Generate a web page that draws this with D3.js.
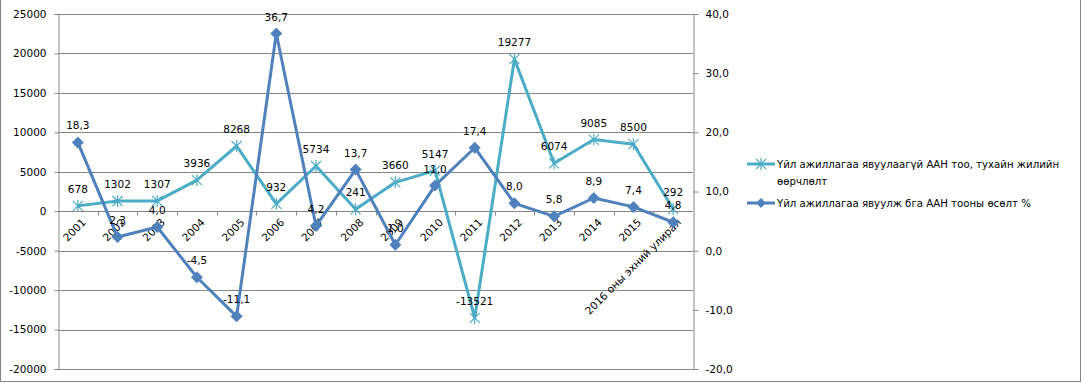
<!DOCTYPE html>
<html>
<head>
<meta charset="utf-8">
<script src="https://cdn.jsdelivr.net/npm/d3@7"></script>
<style>
  body { margin: 0; background: #fff; }
  svg text { font-family: "DejaVu Sans", Verdana, sans-serif; font-size: 10.5px; fill: #000; }
  svg .legend text { font-size: 10.2px; }
</style>
</head>
<body>
<svg id="main-svg" width="1082" height="386"></svg>
<script>
const years = ["2001", "2002", "2003", "2004", "2005", "2006", "2007", "2008",
  "2009", "2010", "2011", "2012", "2013", "2014", "2015", "2016 оны эхний улирал"];
const idleChange = [678, 1302, 1307, 3936, 8268, 932, 5734, 241, 3660, 5147, -13521, 19277, 6074, 9085, 8500, 292];
const activeGrowth = [18.3, 2.3, 4.0, -4.5, -11.1, 36.7, 4.2, 13.7, 1.0, 11.0, 17.4, 8.0, 5.8, 8.9, 7.4, 4.8];
const leftTicks = d3.range(-20000, 25001, 5000);
const rightTicks = d3.range(-20, 41, 10);
const legendNames = [
  ["Үйл ажиллагаа явуулаагүй ААН тоо, тухайн жилийн", "өөрчлөлт"],
  ["Үйл ажиллагаа явуулж бга ААН тооны өсөлт %"]
];

const LIGHT = "#4bacc6";
const DARK = "#4f81bd";
const GRID = "#868686";

const svg = d3.select("#main-svg");
const plotL = 58, plotR = 693, plotT = 14, plotB = 369;

// comma decimal, plain hyphen for negatives
const fmt1 = d => d3.format(".1f")(d).replace(".", ",").replace("−", "-");

// frame
svg.append("rect")
  .attr("x", 0.5).attr("y", -2).attr("width", 1080).attr("height", 383.5)
  .attr("fill", "none").attr("stroke", GRID);

const x = d3.scaleBand().domain(years).range([plotL, plotR]);
const yL = d3.scaleLinear().domain([-20000, 25000]).range([plotB, plotT]);
const yR = d3.scaleLinear().domain([-20, 40]).range([plotB, plotT]);

// gridlines
svg.append("g").selectAll("line").data(leftTicks).join("line")
  .attr("x1", plotL).attr("x2", plotR)
  .attr("y1", d => Math.round(yL(d)) + 0.5).attr("y2", d => Math.round(yL(d)) + 0.5)
  .attr("stroke", GRID);

// left axis
const axL = svg.append("g").attr("transform", `translate(${plotL + 0.5},0)`)
  .call(d3.axisLeft(yL).tickValues(leftTicks).tickSize(4).tickPadding(8).tickFormat(d => String(d)));
axL.select(".domain").attr("stroke", GRID);
axL.selectAll(".tick line").attr("stroke", GRID);
axL.selectAll("text").attr("font-size", null).attr("font-family", null);

// right axis
const axR = svg.append("g").attr("transform", `translate(${plotR + 0.5},0)`)
  .call(d3.axisRight(yR).tickValues(rightTicks).tickSize(5).tickPadding(7).tickFormat(fmt1));
axR.select(".domain").attr("stroke", GRID);
axR.selectAll(".tick line").attr("stroke", GRID);
axR.selectAll("text").attr("font-size", null).attr("font-family", null);

// x axis at zero
const y0 = Math.round(yL(0)) + 0.5;
svg.append("line").attr("x1", plotL).attr("x2", plotR).attr("y1", y0).attr("y2", y0).attr("stroke", GRID);
svg.append("g").selectAll("line").data(years.slice(1)).join("line")
  .attr("x1", d => Math.round(x(d)) + 0.5).attr("x2", d => Math.round(x(d)) + 0.5)
  .attr("y1", y0).attr("y2", y0 + 4).attr("stroke", GRID);
svg.append("g").selectAll("text").data(years).join("text")
  .attr("transform", d => `translate(${x(d) + x.bandwidth() / 2 + 6},${y0 + 9}) rotate(-45)`)
  .attr("text-anchor", "end")
  .attr("dy", "0.35em")
  .text(d => d);

const cx = d => x(d) + x.bandwidth() / 2;

// series 1: light line with star markers
const line1 = d3.line().x((d, i) => cx(years[i])).y(d => yL(d));
svg.append("path").datum(idleChange).attr("d", line1)
  .attr("fill", "none").attr("stroke", LIGHT).attr("stroke-width", 3).attr("stroke-linejoin", "round");

function star(g, color) {
  g.append("path").attr("d", "M-5,-5L5,5M-5,5L5,-5M0,-6L0,6")
    .attr("stroke", color).attr("stroke-width", 1.2).attr("fill", "none");
}
svg.append("g").selectAll("g").data(idleChange).join("g")
  .attr("transform", (d, i) => `translate(${cx(years[i])},${yL(d)})`)
  .each(function() { star(d3.select(this), LIGHT); });

// series 2: dark line with diamond markers
const line2 = d3.line().x((d, i) => cx(years[i])).y(d => yR(d));
svg.append("path").datum(activeGrowth).attr("d", line2)
  .attr("fill", "none").attr("stroke", DARK).attr("stroke-width", 3).attr("stroke-linejoin", "round");
svg.append("g").selectAll("path").data(activeGrowth).join("path")
  .attr("d", "M0,-6L6,0L0,6L-6,0Z")
  .attr("transform", (d, i) => `translate(${cx(years[i])},${yR(d)})`)
  .attr("fill", DARK);

// data labels
svg.append("g").selectAll("text").data(idleChange).join("text")
  .attr("x", (d, i) => cx(years[i]))
  .attr("y", d => yL(d) - 13)
  .attr("text-anchor", "middle")
  .text(d => String(d));
svg.append("g").selectAll("text").data(activeGrowth).join("text")
  .attr("x", (d, i) => cx(years[i]))
  .attr("y", d => yR(d) - 13)
  .attr("text-anchor", "middle")
  .text(fmt1);

// legend
const lg = svg.append("g").attr("class", "legend").attr("transform", "translate(747,0)");
lg.append("line").attr("x1", 0).attr("x2", 28).attr("y1", 164).attr("y2", 164)
  .attr("stroke", LIGHT).attr("stroke-width", 3);
star(lg.append("g").attr("transform", "translate(14,164)"), LIGHT);
lg.append("text").attr("x", 30).attr("y", 164).attr("dy", "0.35em").text(legendNames[0][0]);
lg.append("text").attr("x", 30).attr("y", 181).attr("dy", "0.35em").text(legendNames[0][1]);
lg.append("line").attr("x1", 0).attr("x2", 28).attr("y1", 203).attr("y2", 203)
  .attr("stroke", DARK).attr("stroke-width", 3);
lg.append("path").attr("d", "M0,-5L5,0L0,5L-5,0Z").attr("transform", "translate(14,203)").attr("fill", DARK);
lg.append("text").attr("x", 30).attr("y", 203).attr("dy", "0.35em").text(legendNames[1][0]);
</script>
</body>
</html>
